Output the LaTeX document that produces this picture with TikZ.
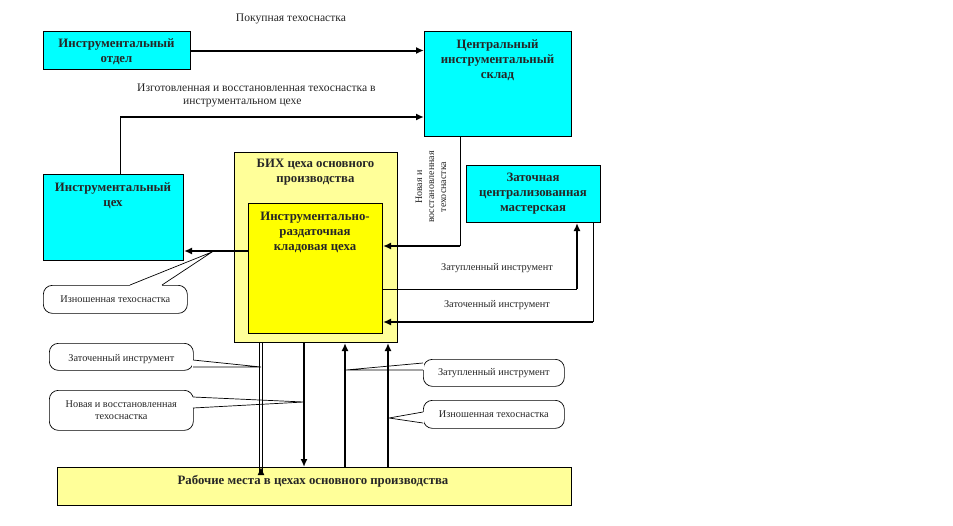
\documentclass[tikz,border=0pt]{standalone}
\usepackage{fontspec}
\setmainfont{Liberation Serif}
\usetikzlibrary{arrows.meta}
\definecolor{cyanfill}{RGB}{0,255,255}
\definecolor{lyfill}{RGB}{255,255,153}
\definecolor{yfill}{RGB}{255,255,0}
\begin{document}
\begin{tikzpicture}[x=1pt,y=-1pt,
  box/.style={draw=black,line width=1pt,anchor=north west,inner sep=0pt},
  cyanbox/.style={box,fill=cyanfill},
  lyellow/.style={box,fill=lyfill},
  yellowbox/.style={box,fill=yfill},
  title/.style={font=\fontsize{12.8}{15}\selectfont\bfseries,align=center,inner sep=0pt,text=black!85},
  lbl/.style={font=\fontsize{10.3}{12.5}\selectfont,align=center,inner sep=0pt,text=black!85},
  biglbl/.style={font=\fontsize{11.6}{13}\selectfont,align=center,inner sep=0pt,text=black!85},
  callout/.style={draw=black,line width=0.7pt,rounded corners=9pt,fill=white,anchor=north west,inner sep=0pt},
  thinline/.style={line width=0.8pt},
  arr/.style={line width=2pt,-{Latex[length=8pt,width=7pt]}},
  wedge/.style={line width=0.7pt},
]
\useasboundingbox (0,0) rectangle (953,525);

% boxes
\node[cyanbox,minimum width=147pt,minimum height=38pt] (otdel) at (43,31) {};
\node[cyanbox,minimum width=147pt,minimum height=105pt] (sklad) at (424,31) {};
\node[cyanbox,minimum width=140pt,minimum height=86pt] (ceh) at (43,174) {};
\node[lyellow,minimum width=163pt,minimum height=190pt] (bih) at (234,152) {};
\node[yellowbox,minimum width=134pt,minimum height=130pt] (irk) at (248,203) {};
\node[cyanbox,minimum width=134pt,minimum height=57pt] (zat) at (466,165) {};
\node[lyellow,minimum width=514pt,minimum height=38pt] (rab) at (57,467) {};

% titles
\node[title] (totdel) at (116.5,52) {Инструментальный\\отдел};
\node[title] (tsklad) at (497.5,60) {Центральный\\инструментальный\\склад};
\node[title] (tceh) at (113,195.5) {Инструментальный\\цех};
\node[title] (tbih) at (315.5,172.5) {БИХ цеха основного\\производства};
\node[title] (tirk) at (315,232) {Инструментально-\\раздаточная\\кладовая цеха};
\node[title] (tzat) at (533,194) {Заточная\\централизованная\\мастерская};
\node[title] (trab) at (313,481) {Рабочие места в цехах основного производства};

% labels
\node[biglbl] (lpok) at (291,19) {Покупная техоснастка};
\node[biglbl,align=left,anchor=north west] (lizg) at (137,84) {Изготовленная и восстановленная техоснастка в\\\hspace*{46pt}инструментальном цехе};
\node[lbl,rotate=90,font=\fontsize{10}{12}\selectfont] (lnov) at (431,187) {Новая и\\восстановленная\\техоснастка};
\node[lbl] (lzatup) at (497,268) {Затупленный инструмент};
\node[lbl] (lzatoch) at (497,305) {Заточенный инструмент};

% connectors
\draw[arr] (otdel.east) -- (otdel.east -| sklad.west);
\coordinate (c1) at (120,117);
\draw[thinline] (ceh.north -| c1) -- (c1);
\draw[line width=2.5pt] (c1) -- ++(10,0);
\draw[arr,line width=1.6pt] (c1) -- (c1 -| sklad.west);

\coordinate (c2) at (460,246);
\draw[thinline] (sklad.south -| c2) -- (c2);
\draw[arr,line width=1.6pt] (c2) -- (c2 -| irk.east);

\coordinate (c3) at (248,251);
\draw[arr] (c3) -- (c3 -| ceh.east);

\coordinate (c4) at (577,289);
\draw[thinline] (c4 -| irk.east) -- (c4);
\draw[arr] (c4) -- (c4 |- zat.south);

\coordinate (c5) at (593,322);
\draw[thinline] (zat.south -| c5) -- (c5);
\draw[arr] (c5) -- (c5 -| irk.east);

\coordinate (v1) at (261,400);
\coordinate (v2) at (304,400);
\coordinate (v3) at (345,400);
\coordinate (v4) at (388,400);
% double line with arrow
\draw[line width=0.8pt] ([xshift=-1.5pt]v1 |- bih.south) -- ([xshift=-1.5pt,yshift=-6pt]v1 |- rab.north);
\draw[line width=0.8pt] ([xshift=1.5pt]v1 |- bih.south) -- ([xshift=1.5pt,yshift=-6pt]v1 |- rab.north);
\draw[line width=1.2pt,-{Latex[length=8pt,width=7pt]}] ([yshift=-8pt]v1 |- rab.north) -- (v1 |- rab.north);
\draw[arr] (v2 |- bih.south) -- (v2 |- rab.north);
\draw[arr] (v3 |- rab.north) -- (v3 |- bih.south);
\draw[arr] (v4 |- rab.north) -- (v4 |- bih.south);

% callouts
\node[callout,minimum width=144pt,minimum height=28pt] (cw1) at (43,285) {};
\node[lbl] (tcw1) at (cw1.center) {Изношенная техоснастка};
\coordinate (w1a) at (130,285); \coordinate (w1b) at (162,285); \coordinate (w1t) at (212,252);
\draw[white,line width=1.6pt] (w1a) -- (w1b);
\draw[wedge] (w1a) -- (w1t) -- (w1b);

\node[callout,minimum width=144pt,minimum height=27pt] (cw2) at (49,343) {};
\node[lbl] (tcw2) at ([yshift=-2]cw2.center) {Заточенный инструмент};
\coordinate (w2a) at (193,360); \coordinate (w2b) at (193,367); \coordinate (w2t) at (261,367);
\draw[white,line width=1.6pt] (w2a) -- (w2b);
\draw[wedge] (w2a) -- (w2t) -- (w2b);

\node[callout,minimum width=144pt,minimum height=40pt] (cw3) at (49,390) {};
\node[lbl] (tcw3) at (cw3.center) {Новая и восстановленная\\техоснастка};
\coordinate (w3a) at (193,397); \coordinate (w3b) at (193,408); \coordinate (w3t) at (304,402);
\draw[white,line width=1.6pt] (w3a) -- (w3b);
\draw[wedge] (w3a) -- (w3t) -- (w3b);

\node[callout,minimum width=141pt,minimum height=27pt] (cw4) at (423,359) {};
\node[lbl] (tcw4) at (cw4.center) {Затупленный инструмент};
\coordinate (w4a) at (423,363); \coordinate (w4b) at (423,370); \coordinate (w4t) at (346,370);
\draw[white,line width=1.6pt] (w4a) -- (w4b);
\draw[wedge] (w4a) -- (w4t) -- (w4b);

\node[callout,minimum width=141pt,minimum height=28pt] (cw5) at (423,400) {};
\node[lbl] (tcw5) at (cw5.center) {Изношенная техоснастка};
\coordinate (w5a) at (423,412); \coordinate (w5b) at (423,423); \coordinate (w5t) at (389,418);
\draw[white,line width=1.6pt] (w5a) -- (w5b);
\draw[wedge] (w5a) -- (w5t) -- (w5b);
\end{tikzpicture}
\end{document}
